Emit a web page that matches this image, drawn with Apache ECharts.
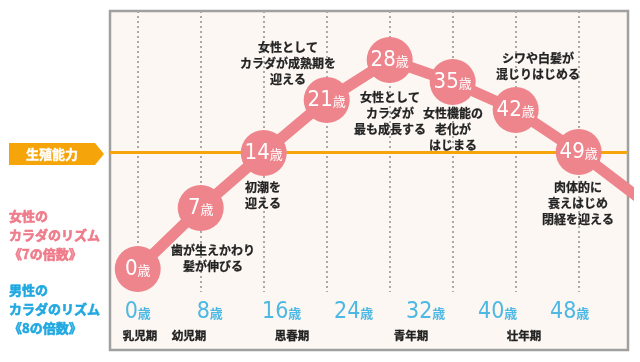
<!DOCTYPE html>
<html><head><meta charset="utf-8">
<script src="https://cdn.jsdelivr.net/npm/echarts@6/dist/echarts.min.js"></script>
<style>html,body{margin:0;padding:0;background:#fff;}#c{width:640px;height:362px;}</style>
</head><body><div id="c"></div>
<script>
// ---- data ----
const femaleAges = [0, 7, 14, 21, 28, 35, 42, 49, 56];
const femaleValues = [12.4, 36.8, 58.8, 80, 96, 87.2, 76, 59.2, 40];
const femaleShown = [true, true, true, true, true, true, true, true, false];
const maleAges = [0, 8, 16, 24, 32, 40, 48];
const fertilityThreshold = 59;
const ageUnit = '歳';
const thresholdLabel = '生殖能力';
const femaleTitle = ['女性の', 'カラダのリズム', '《7の倍数》'];
const maleTitle = ['男性の', 'カラダのリズム', '《8の倍数》'];
const annotations = [
  ['歯が生えかわり', '髪が伸びる'],
  ['初潮を', '迎える'],
  ['女性として', 'カラダが成熟期を', '迎える'],
  ['女性として', 'カラダが', '最も成長する'],
  ['女性機能の', '老化が', 'はじまる'],
  ['シワや白髪が', '混じりはじめる'],
  ['肉体的に', '衰えはじめ', '閉経を迎える']
];
const periods = ['乳児期', '幼児期', '思春期', '青年期', '壮年期'];

// ---- styles / layout ----
const PINK = '#ee858c', TXTPINK = '#ef7b8a', BLUE = '#20a8e0', ORANGE = '#f5a50a';
const NUMFONT = '"Liberation Sans Narrow","DejaVu Sans Condensed","Roboto",sans-serif';
const JP = '"Noto Sans CJK JP","Noto Sans",sans-serif';
const annPos = [[213, 242], [263, 179], [288, 39], [390, 89], [453, 105], [538, 50], [578, 179]];
const periodPos = [140, 189, 292, 411, 524];
const yTop = 115.6, yMin = -20, dotBottom = 3.2, maleLabelY = -4.7;

const chart = echarts.init(document.getElementById('c'), null, {renderer: 'canvas'});

const femaleData = femaleAges.map((a, i) => femaleShown[i]
  ? {value: [a, femaleValues[i]]}
  : {value: [a, femaleValues[i]], symbol: 'none', label: {show: false}});

const dotLines = femaleAges.filter((a, i) => femaleShown[i]).map(a => [
  {coord: [a, yTop]}, {coord: [a, dotBottom]}
]);

const graphics = [];
graphics.push({type: 'polygon', shape: {points: [[9, 143], [95, 143], [104, 154], [95, 165], [9, 165]]},
  style: {fill: ORANGE}, z: 10});
graphics.push({type: 'text', x: 52, y: 154, style: {text: thresholdLabel, fill: '#fff',
  stroke: '#fff', lineWidth: 0.4,
  font: 'bold 13px ' + JP, textAlign: 'center', textVerticalAlign: 'middle'}, z: 11});
graphics.push({type: 'text', x: 9, y: 206.5, style: {text: femaleTitle.join('\n'), fill: TXTPINK,
  stroke: TXTPINK, lineWidth: 0.6,
  font: 'bold 13px ' + JP, lineHeight: 19, textAlign: 'left', textVerticalAlign: 'top'}, z: 11});
graphics.push({type: 'text', x: 9, y: 281, style: {text: maleTitle.join('\n'), fill: BLUE,
  stroke: BLUE, lineWidth: 0.6,
  font: 'bold 13px ' + JP, lineHeight: 18.75, textAlign: 'left', textVerticalAlign: 'top'}, z: 11});
annotations.forEach((lines, i) => {
  graphics.push({type: 'text', x: annPos[i][0], y: annPos[i][1], style: {text: lines.join('\n'),
    fill: '#222', stroke: '#222', lineWidth: 0.25,
    font: 'bold 12px ' + JP, lineHeight: 16, textAlign: 'center', textVerticalAlign: 'top'}, z: 20});
});
periods.forEach((p, i) => {
  graphics.push({type: 'text', x: periodPos[i], y: 336, style: {text: p, fill: '#222',
    stroke: '#222', lineWidth: 0.3,
    font: 'bold 11.5px ' + JP, textAlign: 'center', textVerticalAlign: 'middle'}, z: 20});
});

chart.setOption({
  animation: false,
  grid: {left: 110, right: 12, top: 11, bottom: 12, show: true, backgroundColor: '#fcf7f2',
    borderColor: '#a0a0a0', borderWidth: 2.5},
  xAxis: {type: 'value', min: -3.08, max: 54.48, show: false},
  yAxis: {type: 'value', min: yMin, max: yTop, show: false},
  graphic: graphics,
  series: [
    {type: 'line', data: [], z: 1, silent: true,
      markLine: {silent: true, symbol: 'none', label: {show: false},
        lineStyle: {color: '#aaaaaa', width: 2, type: [2, 3]}, data: dotLines}},
    {type: 'line', data: [], z: 2, silent: true,
      markLine: {silent: true, symbol: 'none', label: {show: false},
        lineStyle: {color: ORANGE, width: 3, type: 'solid'}, data: [{yAxis: fertilityThreshold}]}},
    {type: 'line', data: femaleData, z: 5, clip: true, showAllSymbol: true,
      symbol: 'circle', symbolSize: 46,
      lineStyle: {color: PINK, width: 11},
      itemStyle: {color: PINK},
      label: {show: true, position: 'inside',
        formatter: p => '{n|' + p.value[0] + '}{u|' + ageUnit + '}',
        rich: {n: {fontFamily: NUMFONT, fontSize: 22, color: '#fff'},
               u: {fontFamily: JP, fontSize: 13, color: '#fff', padding: [3, 0, 0, 0]}}}},
    {type: 'scatter', data: maleAges.map(a => [a, maleLabelY]), symbolSize: 0, z: 6, silent: true,
      label: {show: true, position: 'inside',
        formatter: p => '{n|' + p.value[0] + '}{u|' + ageUnit + '}',
        rich: {n: {fontFamily: NUMFONT, fontSize: 23, color: BLUE},
               u: {fontFamily: JP, fontSize: 13, fontWeight: 'bold', color: BLUE, padding: [3, 0, 0, 0]}}}}
  ]
});
</script></body></html>
